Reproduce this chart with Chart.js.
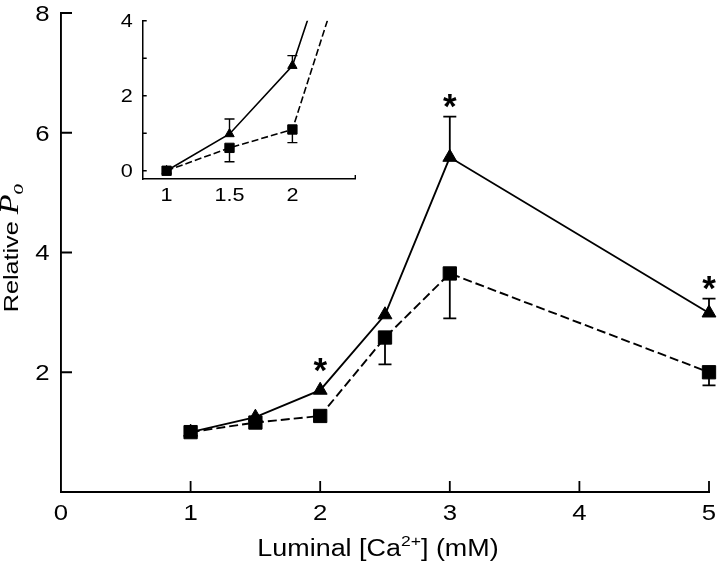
<!DOCTYPE html>
<html>
<head>
<meta charset="utf-8">
<script src="https://cdn.jsdelivr.net/npm/chart.js@4.4.0/dist/chart.umd.min.js"></script>
<style>
  body { margin: 0; background: #fff; }
  #wrap { position: relative; width: 720px; height: 564px; }
  #main { position: absolute; left: 0; top: 0; }
  #inset { position: absolute; left: 90px; top: 0; }
</style>
</head>
<body>
<div id="wrap">
  <canvas id="main" width="720" height="564"></canvas>
  <canvas id="inset" width="280" height="215"></canvas>
</div>
<script>
// main panel: relative Po vs luminal Ca
const mainX = [1, 1.5, 2, 2.5, 3, 5];
const mainTriangle = [1.00, 1.25, 1.70, 2.96, 5.59, 2.99];
const mainTriangleErr = [0, 0, 0, 0, 0.68, 0.24];   // upward
const mainSquare = [1.00, 1.16, 1.27, 2.58, 3.65, 2.00];
const mainSquareErr = [0, 0, 0, 0.45, 0.75, 0.22];  // downward
const mainStars = [false, false, true, false, true, true];

// inset panel
const insetX = [1, 1.5, 2, 2.5];
const insetTriangle = [0, 0.98, 2.80, 7.84];
const insetTriangleErr = [0, 0.40, 0.27, 0];
const insetSquare = [0, 0.61, 1.10, 6.32];
const insetSquareErr = [0, 0.37, 0.35, 0];

const mainXTicks = [0, 1, 2, 3, 4, 5];
const mainYTicks = [0, 2, 4, 6, 8];
const insetXTicks = [1, 1.5, 2, 2.5];
const insetYTicks = [0, 1, 2, 3, 4];

const FONT = "'Liberation Sans', Arial, sans-serif";
const STRETCH = 1.17; // the figure text is a little wider than tall

function pts(xs, ys) {
    return xs.map((x, i) => ({x: x, y: ys[i]}));
}

// error bars (one sided), drawn under the markers
const errorBars = {
    id: 'errorBars',
    beforeDatasetsDraw(chart) {
        const ctx = chart.ctx;
        chart.data.datasets.forEach((ds, i) => {
            if (!ds.errors) return;
            const meta = chart.getDatasetMeta(i);
            ctx.save();
            ctx.strokeStyle = '#000';
            ctx.lineWidth = ds.errWidth || 1.5;
            ds.errors.forEach((e, j) => {
                if (!e) return;
                const px = meta.xScale.getPixelForValue(ds.data[j].x);
                const py = meta.yScale.getPixelForValue(ds.data[j].y);
                const pe = meta.yScale.getPixelForValue(ds.data[j].y + ds.errorDir * e);
                const hw = ds.capWidth / 2;
                ctx.beginPath();
                ctx.moveTo(px, py);
                ctx.lineTo(px, pe);
                ctx.moveTo(px - hw, pe);
                ctx.lineTo(px + hw, pe);
                ctx.stroke();
            });
            ctx.restore();
        });
    },
    afterDatasetsDraw(chart) {
        // significance stars
        const ctx = chart.ctx;
        chart.data.datasets.forEach((ds, i) => {
            if (!ds.stars) return;
            const meta = chart.getDatasetMeta(i);
            ctx.save();
            ctx.fillStyle = '#000';
            ctx.font = 'bold 35px ' + FONT;
            ctx.textAlign = 'center';
            ctx.textBaseline = 'alphabetic';
            const m = ctx.measureText('*');
            const mid = (m.actualBoundingBoxAscent - m.actualBoundingBoxDescent) / 2;
            ds.stars.forEach((s, j) => {
                if (!s) return;
                const px = meta.xScale.getPixelForValue(ds.data[j].x);
                const e = ds.errors ? ds.errors[j] : 0;
                let cy;
                if (e) {
                    cy = meta.yScale.getPixelForValue(ds.data[j].y + ds.errorDir * e) - 16;
                } else {
                    cy = meta.yScale.getPixelForValue(ds.data[j].y) - 25;
                }
                ctx.fillText('*', px, cy + mid);
            });
            ctx.restore();
        });
    }
};

// tick marks pointing into the plot, and the (slightly wide) tick labels
const axisMarks = {
    id: 'axisMarks',
    afterDraw(chart, args, opts) {
        const ctx = chart.ctx;
        const area = chart.chartArea;
        const xs = chart.scales.x, ys = chart.scales.y;
        ctx.save();
        ctx.strokeStyle = '#000';
        ctx.lineWidth = opts.width;
        ctx.beginPath();
        (opts.x || []).forEach(v => {
            const px = xs.getPixelForValue(v);
            ctx.moveTo(px, area.bottom);
            ctx.lineTo(px, area.bottom - opts.length);
        });
        (opts.y || []).forEach(v => {
            const py = ys.getPixelForValue(v);
            ctx.moveTo(area.left, py);
            ctx.lineTo(area.left + opts.length, py);
        });
        ctx.stroke();

        ctx.fillStyle = '#000';
        ctx.font = opts.fontSize + 'px ' + FONT;
        ctx.textBaseline = 'alphabetic';
        const cap = opts.fontSize * 0.716;
        xs.ticks.forEach(t => {
            const lbl = opts.xLabel(t.value);
            if (lbl === '') return;
            ctx.save();
            ctx.translate(xs.getPixelForValue(t.value), area.bottom + opts.xGap + cap);
            ctx.scale(opts.stretch, 1);
            ctx.textAlign = 'center';
            ctx.fillText(lbl, 0, 0);
            ctx.restore();
        });
        ys.ticks.forEach(t => {
            const lbl = opts.yLabel(t.value);
            if (lbl === '') return;
            ctx.save();
            ctx.translate(area.left - opts.yGap, ys.getPixelForValue(t.value) + cap / 2);
            ctx.scale(opts.stretch, 1);
            ctx.textAlign = 'right';
            ctx.fillText(lbl, 0, 0);
            ctx.restore();
        });
        ctx.restore();
    }
};

// axis titles with superscript / italic subscript
const axisTitles = {
    id: 'axisTitles',
    afterDraw(chart) {
        const ctx = chart.ctx;
        ctx.save();
        ctx.fillStyle = '#000';
        ctx.textBaseline = 'alphabetic';
        ctx.textAlign = 'left';

        // x title
        const parts = [
            {t: 'Luminal [Ca', f: '23px ' + FONT, dy: 0},
            {t: '2+', f: '15px ' + FONT, dy: -10},
            {t: '] (mM)', f: '23px ' + FONT, dy: 0}
        ];
        let w = 0;
        parts.forEach(p => { ctx.font = p.f; p.w = ctx.measureText(p.t).width; w += p.w; });
        ctx.save();
        ctx.translate(378, 556);
        ctx.scale(STRETCH, 1);
        let x = -w / 2;
        parts.forEach(p => { ctx.font = p.f; ctx.fillText(p.t, x, p.dy); x += p.w; });
        ctx.restore();

        // y title, rotated
        const yparts = [
            {t: 'Relative ', f: '21px ' + FONT, dy: 0},
            {t: 'P', f: 'italic 27px "Liberation Serif", serif', dy: 0},
            {t: 'o', f: 'italic 18px "Liberation Serif", serif', dy: 5}
        ];
        w = 0;
        yparts.forEach(p => { ctx.font = p.f; p.w = ctx.measureText(p.t).width; w += p.w; });
        ctx.translate(18, 248);
        ctx.rotate(-Math.PI / 2);
        ctx.scale(1.2, 1);
        x = -w / 2;
        yparts.forEach(p => { ctx.font = p.f; ctx.fillText(p.t, x, p.dy); x += p.w; });
        ctx.restore();
    }
};

function lineSet(data, opts) {
    return Object.assign({
        data: data,
        borderColor: '#000',
        backgroundColor: '#000',
        pointBackgroundColor: '#000',
        pointBorderColor: '#000',
        pointBorderWidth: 1,
        fill: false,
        tension: 0
    }, opts);
}

new Chart(document.getElementById('main'), {
    type: 'line',
    data: {
        datasets: [
            lineSet(pts(mainX, mainTriangle), {
                order: 2, borderWidth: 1.9, pointStyle: 'triangle', pointRadius: 8, clip: false,
                errors: mainTriangleErr, errorDir: 1, capWidth: 13, errWidth: 1.8,
                stars: mainStars
            }),
            lineSet(pts(mainX, mainSquare), {
                order: 1, borderWidth: 1.9, borderDash: [9, 4], pointStyle: 'rect', pointRadius: 9.4, clip: false,
                errors: mainSquareErr, errorDir: -1, capWidth: 13, errWidth: 1.8
            })
        ]
    },
    options: {
        responsive: false,
        animation: false,
        layout: {padding: {left: 0, right: 11, top: 13, bottom: 0}},
        plugins: {
            legend: {display: false},
            tooltip: {enabled: false},
            axisMarks: {
                x: [1, 2, 3, 4, 5], y: [2, 4, 6, 8], length: 11, width: 1.8,
                fontSize: 22, stretch: STRETCH, xGap: 12.5, yGap: 11.5,
                xLabel: v => String(v), yLabel: v => v === 0 ? '' : String(v)
            }
        },
        scales: {
            x: {
                type: 'linear', min: 0, max: 5,
                afterBuildTicks: s => { s.ticks = mainXTicks.map(v => ({value: v})); },
                afterFit: s => { s.height = 72; },
                grid: {display: false, drawTicks: false},
                border: {display: true, color: '#000', width: 1.9},
                ticks: {display: false}
            },
            y: {
                type: 'linear', min: 0, max: 8,
                afterBuildTicks: s => { s.ticks = mainYTicks.map(v => ({value: v})); },
                afterFit: s => { s.width = 61; },
                grid: {display: false, drawTicks: false},
                border: {display: true, color: '#000', width: 1.9},
                ticks: {display: false}
            }
        }
    },
    plugins: [errorBars, axisMarks, axisTitles]
});

new Chart(document.getElementById('inset'), {
    type: 'line',
    data: {
        datasets: [
            lineSet(pts(insetX, insetTriangle), {
                order: 2, borderWidth: 1.6, pointStyle: 'triangle', pointRadius: 5.4,
                errors: insetTriangleErr, errorDir: 1, capWidth: 10, errWidth: 1.4
            }),
            lineSet(pts(insetX, insetSquare), {
                order: 1, borderWidth: 1.6, borderDash: [7, 3], pointStyle: 'rect', pointRadius: 6.6,
                errors: insetSquareErr, errorDir: -1, capWidth: 10, errWidth: 1.4
            })
        ]
    },
    options: {
        responsive: false,
        animation: false,
        layout: {padding: {left: 0, right: 14.7, top: 20.7, bottom: 0}},
        plugins: {
            legend: {display: false},
            tooltip: {enabled: false},
            axisMarks: {
                x: [2.5], y: [0, 1, 2, 3, 4], length: 4, width: 1.4,
                fontSize: 18, stretch: 1.2, xGap: 9.5, yGap: 10,
                xLabel: v => v === 2.5 ? '' : String(v), yLabel: v => v % 2 === 0 ? String(v) : ''
            }
        },
        scales: {
            x: {
                type: 'linear', min: 0.81, max: 2.5,
                afterBuildTicks: s => { s.ticks = insetXTicks.map(v => ({value: v})); },
                afterFit: s => { s.height = 36; },
                grid: {display: false, drawTicks: false},
                border: {display: true, color: '#000', width: 1.5},
                ticks: {display: false}
            },
            y: {
                type: 'linear', min: -0.22, max: 4,
                afterBuildTicks: s => { s.ticks = insetYTicks.map(v => ({value: v})); },
                afterFit: s => { s.width = 52.7; },
                grid: {display: false, drawTicks: false},
                border: {display: true, color: '#000', width: 1.5},
                ticks: {display: false}
            }
        }
    },
    plugins: [errorBars, axisMarks]
});
</script>
</body>
</html>
